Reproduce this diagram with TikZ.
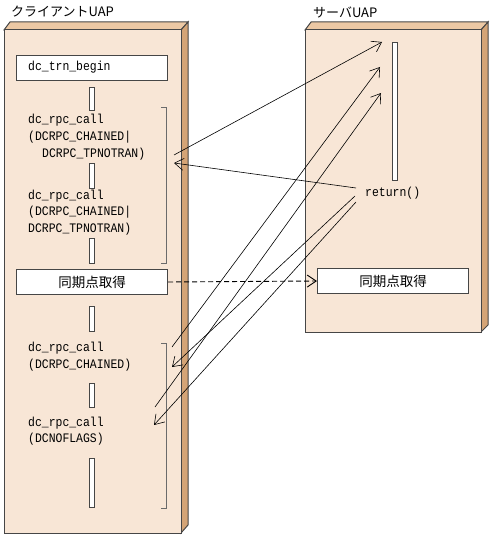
\documentclass[tikz,border=0pt]{standalone}
\usepackage{fontspec}
\setmainfont{Noto Sans CJK JP}
\newfontfamily\monofont[FakeStretch=0.88]{Liberation Mono}
\usetikzlibrary{arrows.meta}
\definecolor{boxfront}{RGB}{248,230,214}
\definecolor{boxtop}{RGB}{236,200,164}
\definecolor{boxside}{RGB}{212,164,118}
\definecolor{boxline}{RGB}{70,70,70}
\begin{document}
\begin{tikzpicture}[x=1pt,y=-1pt,
  face/.style={draw=boxline, line width=1pt},
  bar/.style={draw=boxline, fill=white, line width=0.8pt},
  txt/.style={font=\monofont\fontsize{13}{15}\selectfont, anchor=west, inner sep=0pt},
  jtxt/.style={font=\fontsize{13.5}{15}\selectfont, inner sep=0pt},
  stepbox/.style={draw=boxline, fill=white, line width=1pt, minimum width=151pt, minimum height=25pt, inner sep=0pt},
  call/.style={-{Straight Barb[length=9pt,width=12pt]}, line width=0.6pt},
  bracket/.style={draw=boxline!80, line width=0.8pt}]
\useasboundingbox (0,0) rectangle (493,537);
% client UAP
\node[jtxt, font=\fontsize{13}{15}\selectfont, anchor=west] (chead) at (11,12) {クライアントUAP};
\draw[face, fill=boxtop] (4,30) -- (10,22) -- (188,22) -- (181,30) -- cycle;
\draw[face, fill=boxside] (181,30) -- (188,22) -- (188,525) -- (181,533) -- cycle;
\draw[face, fill=boxfront] (4,30) rectangle (181,533);
% server UAP
\node[jtxt, font=\fontsize{13}{15}\selectfont, anchor=west] (shead) at (313,12) {サーバUAP};
\draw[face, fill=boxtop] (305,30) -- (311,22) -- (488,22) -- (481,30) -- cycle;
\draw[face, fill=boxside] (481,30) -- (488,22) -- (488,325) -- (481,332) -- cycle;
\draw[face, fill=boxfront] (305,30) rectangle (481,332);
% client steps
\node[stepbox, anchor=north west] (begin) at (16,55) {};
\node[txt] at (28,67.5) {dc\_trn\_begin};
\node[stepbox, anchor=north west] (csync) at (16,269) {};
\node[jtxt] at (csync) {同期点取得};
\foreach \y/\h in {87/110, 163/188, 238/263, 306/331, 383/407, 458/507}
  \draw[bar] (89,\y) rectangle (94,\h);
\draw[bracket] (161,107) -- (166,107) -- (166,263) -- (161,263);
\draw[bracket] (161,343) -- (166,343) -- (166,508) -- (161,508);
\node[txt] (call1) at (28,120) {dc\_rpc\_call};
\node[txt] at (28,137) {(DCRPC\_CHAINED|};
\node[txt] at (42,154) {DCRPC\_TPNOTRAN)};
\node[txt] (call2) at (28,196) {dc\_rpc\_call};
\node[txt] at (28,212) {(DCRPC\_CHAINED|};
\node[txt] at (28,229) {DCRPC\_TPNOTRAN)};
\node[txt] (call3) at (28,348) {dc\_rpc\_call};
\node[txt] at (28,365) {(DCRPC\_CHAINED)};
\node[txt] (call4) at (28,423) {dc\_rpc\_call};
\node[txt] at (28,439) {(DCNOFLAGS)};
% server steps
\draw[bar] (392,42) rectangle (397,180);
\node[txt] (ret) at (365,193) {return()};
\node[stepbox, anchor=north west] (ssync) at (317,268) {};
\node[jtxt] at (ssync) {同期点取得};
% connectors
\coordinate (c1) at (174,155);
\coordinate (c2) at (174,163);
\coordinate (c3) at (172,347);
\coordinate (c4) at (155,407);
\coordinate (c5) at (172,367);
\coordinate (c6) at (154,425);
\coordinate (s1) at (382,42);
\coordinate (s2) at (380,67);
\coordinate (s3) at (381,93);
\coordinate (r1) at (356,188);
\coordinate (r2) at (355,196);
\coordinate (r3) at (356,202);
\foreach \a/\b in {c1/s1, c3/s2, c4/s3, r1/c2, r2/c5, r3/c6}
  \draw[call] (\a) -- (\b);
\draw[call, line width=0.9pt, dash pattern=on 5pt off 3pt] (csync.east) -- (ssync.west);
\end{tikzpicture}
\end{document}
